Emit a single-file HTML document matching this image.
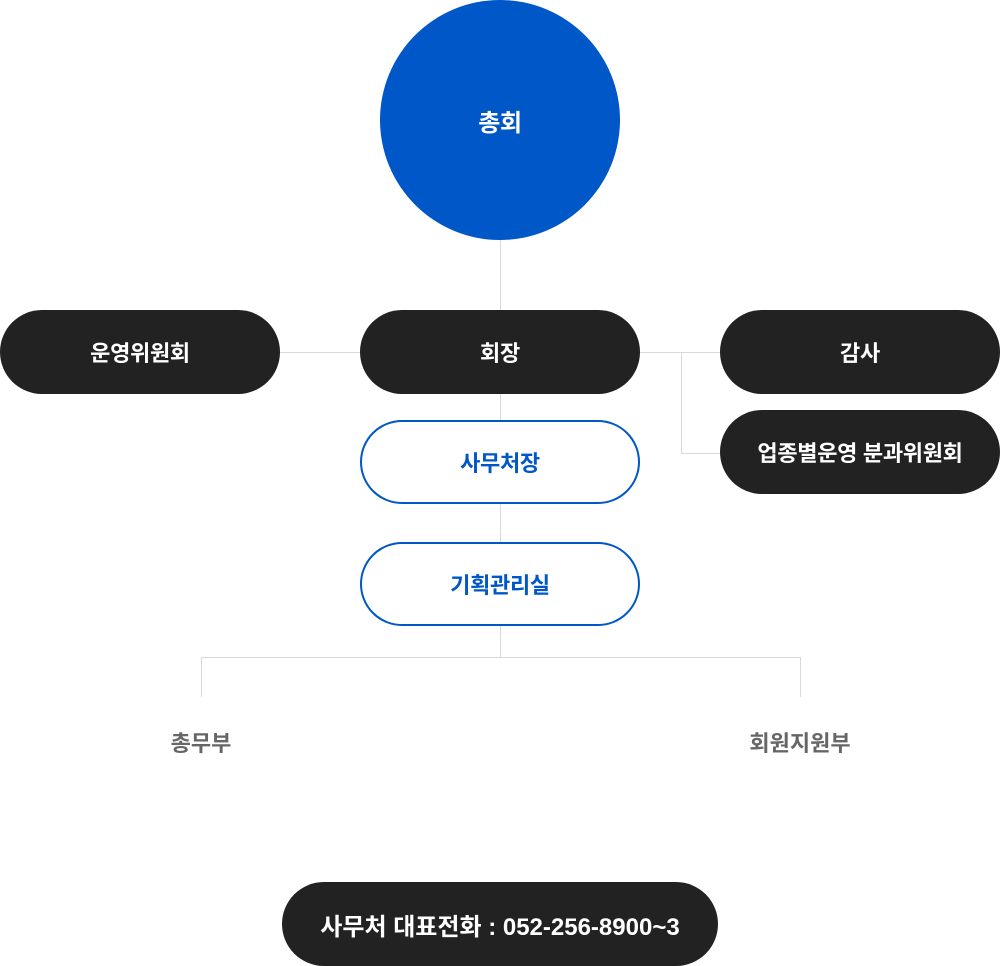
<!DOCTYPE html>
<html><head><meta charset="utf-8"><style>
*{margin:0;padding:0;box-sizing:border-box}
body{width:1000px;height:966px;background:#fff;position:relative;overflow:hidden;font-family:"Liberation Sans","Noto Sans CJK KR",sans-serif}
.p{position:absolute;display:flex;align-items:center;justify-content:center;font-weight:bold;font-size:22px;border-radius:42px;letter-spacing:-0.3px}
.d{background:#222;color:#fff;height:84px}
.w{background:#fff;color:#0057c8;border:2px solid #0057c8;height:84px}
.l{position:absolute;background:#d9d9d9}
.t{position:absolute;font-size:22px;font-weight:bold;color:#666;transform:translateX(-50%);white-space:nowrap}
</style></head><body>
<div class="l" style="left:500px;top:230px;width:1px;height:80px"></div>
<div class="l" style="left:280px;top:352px;width:80px;height:1px"></div>
<div class="l" style="left:640px;top:352px;width:80px;height:1px"></div>
<div class="l" style="left:681px;top:352px;width:1px;height:101px"></div>
<div class="l" style="left:681px;top:453px;width:39px;height:1px"></div>
<div class="l" style="left:500px;top:394px;width:1px;height:264px"></div>
<div class="l" style="left:201px;top:657px;width:600px;height:1px"></div>
<div class="l" style="left:201px;top:657px;width:1px;height:40px"></div>
<div class="l" style="left:800px;top:657px;width:1px;height:40px"></div>
<div class="p" style="left:380px;top:0;width:240px;height:240px;border-radius:50%;background:#0057c8;color:#fff;font-size:24px">총회</div>
<div class="p d" style="left:0;top:310px;width:280px">운영위원회</div>
<div class="p d" style="left:360px;top:310px;width:280px">회장</div>
<div class="p d" style="left:720px;top:310px;width:280px">감사</div>
<div class="p d" style="left:720px;top:410px;width:280px">업종별운영 분과위원회</div>
<div class="p w" style="left:360px;top:420px;width:280px">사무처장</div>
<div class="p w" style="left:360px;top:542px;width:280px">기획관리실</div>
<div class="t" style="left:201px;top:726px">총무부</div>
<div class="t" style="left:800px;top:726px">회원지원부</div>
<div class="p d" style="left:282px;top:882px;width:436px;font-size:24px;letter-spacing:0">사무처 대표전화 : 052-256-8900~3</div>
</body></html>
